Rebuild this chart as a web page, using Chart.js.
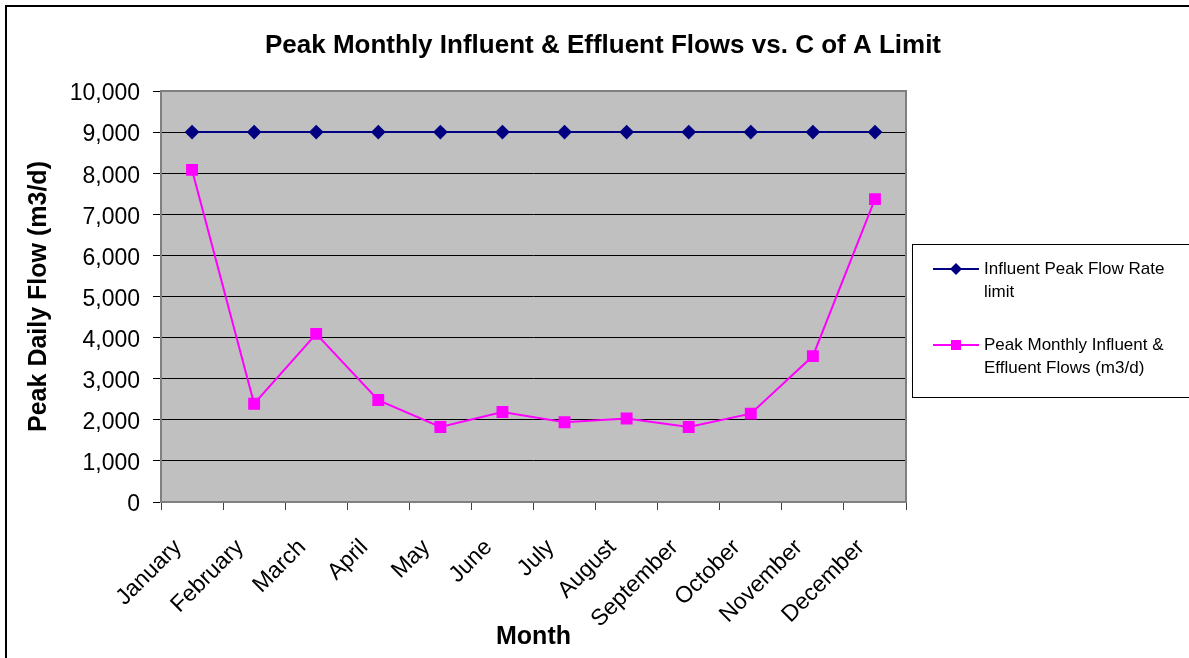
<!DOCTYPE html>
<html>
<head>
<meta charset="utf-8">
<title>Peak Monthly Influent & Effluent Flows vs. C of A Limit</title>
<script src="https://cdn.jsdelivr.net/npm/chart.js@4.4.0/dist/chart.umd.min.js"></script>
<style>
  html, body { margin: 0; padding: 0; background: #fff; }
  #wrap { width: 1189px; height: 658px; }
</style>
</head>
<body>
<div id="wrap"><canvas id="chart" width="1189" height="658"></canvas></div>
<script>
const months = ["January", "February", "March", "April", "May", "June",
                "July", "August", "September", "October", "November", "December"];
const limitLabel = "Influent Peak Flow Rate limit";
const limitValues = [9000, 9000, 9000, 9000, 9000, 9000, 9000, 9000, 9000, 9000, 9000, 9000];
const flowLabel = "Peak Monthly Influent & Effluent Flows (m3/d)";
const flowValues = [8080, 2390, 4090, 2480, 1825, 2190, 1940, 2030, 1825, 2150, 3550, 7370];

const FONT = 'Arial, "Liberation Sans", sans-serif';

// grey plot area + frame around the whole picture
const backdrop = {
    id: "backdrop",
    beforeDraw(chart) {
        const { ctx, chartArea: a } = chart;
        ctx.save();
        ctx.fillStyle = "#c0c0c0";
        ctx.fillRect(a.left, a.top, a.right - a.left, a.bottom - a.top);
        ctx.lineWidth = 2;
        ctx.strokeStyle = "#000";
        ctx.strokeRect(6, 6, chart.width + 20, chart.height + 20);
        ctx.restore();
    },
    beforeDatasetsDraw(chart) {
        const { ctx, chartArea: a } = chart;
        ctx.save();
        ctx.lineWidth = 2;
        ctx.strokeStyle = "#808080";
        ctx.strokeRect(a.left, a.top, a.right - a.left, a.bottom - a.top);
        ctx.restore();
    }
};

// boxed legend on the right, like the spreadsheet one
const boxLegend = {
    id: "boxLegend",
    afterDraw(chart) {
        const ctx = chart.ctx;
        const a = chart.chartArea;
        const boxX = a.right + 6, boxY = 244, boxH = 153;
        ctx.save();
        ctx.lineWidth = 1;
        ctx.strokeStyle = "#000";
        ctx.strokeRect(boxX + 0.5, boxY + 0.5, chart.width, boxH);
        ctx.font = "17px " + FONT;
        ctx.textBaseline = "middle";
        ctx.textAlign = "left";
        const rows = [269, 345];
        chart.data.datasets.forEach((ds, i) => {
            const y = rows[i];
            const cx = boxX + 44;
            ctx.strokeStyle = ds.borderColor;
            ctx.lineWidth = 2;
            ctx.beginPath();
            ctx.moveTo(boxX + 21, y);
            ctx.lineTo(boxX + 67, y);
            ctx.stroke();
            ctx.fillStyle = ds.pointBackgroundColor;
            ctx.beginPath();
            if (ds.pointStyle === "rectRot") {
                ctx.moveTo(cx, y - 6); ctx.lineTo(cx + 6, y);
                ctx.lineTo(cx, y + 6); ctx.lineTo(cx - 6, y);
                ctx.closePath();
            } else {
                ctx.rect(cx - 5, y - 5, 10, 10);
            }
            ctx.fill();
            // wrap label
            const words = ds.label.split(" ");
            const lines = [];
            let line = "";
            words.forEach(w => {
                const test = line ? line + " " + w : w;
                if (ctx.measureText(test).width > 192 && line) {
                    lines.push(line);
                    line = w;
                } else {
                    line = test;
                }
            });
            lines.push(line);
            ctx.fillStyle = "#000";
            lines.forEach((t, k) => ctx.fillText(t, boxX + 72, y + k * 23));
        });
        ctx.restore();
    }
};

const chart = new Chart(document.getElementById("chart"), {
    type: "line",
    data: {
        labels: months,
        datasets: [
            {
                label: limitLabel,
                data: limitValues,
                borderColor: "#000080",
                backgroundColor: "#000080",
                pointBackgroundColor: "#000080",
                pointBorderColor: "#000080",
                pointStyle: "rectRot",
                pointRadius: 6,
                pointHoverRadius: 6,
                borderWidth: 2,
                tension: 0
            },
            {
                label: flowLabel,
                data: flowValues,
                borderColor: "#ff00ff",
                backgroundColor: "#ff00ff",
                pointBackgroundColor: "#ff00ff",
                pointBorderColor: "#ff00ff",
                pointStyle: "rect",
                pointRadius: 7,
                pointHoverRadius: 7,
                borderWidth: 2,
                tension: 0
            }
        ]
    },
    options: {
        responsive: false,
        animation: false,
        events: [],
        layout: { padding: { left: 17, top: 0, right: 0, bottom: 0 } },
        plugins: {
            legend: { display: false },
            tooltip: { enabled: false },
            title: {
                display: true,
                text: "Peak Monthly Influent & Effluent Flows vs. C of A Limit",
                color: "#000",
                font: { family: FONT, size: 26, weight: "bold", lineHeight: 1.2 },
                padding: { top: 30, bottom: 29.8 }
            }
        },
        scales: {
            x: {
                offset: true,
                grid: {
                    offset: true,
                    drawOnChartArea: false,
                    drawTicks: true,
                    tickLength: 8,
                    color: "#404040"
                },
                border: { display: false },
                ticks: {
                    autoSkip: false,
                    minRotation: 45,
                    maxRotation: 45,
                    padding: 24,
                    labelOffset: -14,
                    color: "#000",
                    font: { family: FONT, size: 23 }
                },
                title: {
                    display: true,
                    text: "Month",
                    color: "#000",
                    font: { family: FONT, size: 25, weight: "bold", lineHeight: 1.2 },
                    padding: { top: 0, bottom: 6 }
                },
                afterFit(s) { s.height = 156; }
            },
            y: {
                min: 0,
                max: 10000,
                ticks: {
                    stepSize: 1000,
                    padding: 13,
                    labelOffset: 3,
                    color: "#000",
                    font: { family: FONT, size: 23 }
                },
                grid: {
                    color: "#000",
                    lineWidth: 1,
                    tickLength: 8
                },
                border: { display: false },
                title: {
                    display: true,
                    text: "Peak Daily Flow (m3/d)",
                    color: "#000",
                    font: { family: FONT, size: 25, weight: "bold", lineHeight: 1.2 },
                    padding: { top: 7, bottom: 0 }
                },
                afterFit(s) { s.width = 144; }
            },
            pad: {
                type: "linear",
                position: "right",
                display: true,
                grid: { display: false },
                border: { display: false },
                ticks: { display: false },
                afterFit(s) { s.width = 283; }
            }
        }
    },
    plugins: [backdrop, boxLegend]
});
</script>
</body>
</html>
